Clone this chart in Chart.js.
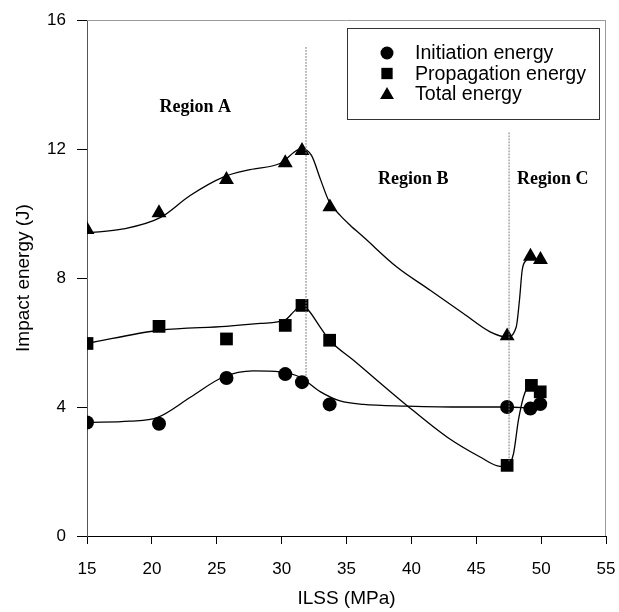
<!DOCTYPE html>
<html>
<head>
<meta charset="utf-8">
<script src="https://cdn.jsdelivr.net/npm/chart.js@4"></script>
<style>
  html, body { margin: 0; padding: 0; background: #fff; }
  #wrap { width: 619px; height: 612px; }
</style>
</head>
<body>
<div id="wrap"><canvas id="chart" width="619" height="612"></canvas></div>
<script>
// measured points (ILSS in MPa, energy in J)
const initiationX = [15, 20.55, 25.75, 30.28, 31.57, 33.7, 47.38, 49.17, 49.93];
const initiationY = [3.52, 3.48, 4.9, 5.02, 4.77, 4.08, 4.0, 3.95, 4.09];
const propagationX = [15, 20.55, 25.75, 30.28, 31.57, 33.7, 47.38, 49.25, 49.93];
const propagationY = [5.97, 6.5, 6.11, 6.53, 7.15, 6.07, 2.19, 4.67, 4.47];
const totalX = [15, 20.55, 25.75, 30.28, 31.57, 33.72, 47.38, 49.18, 49.95];
const totalY = [9.5, 10.02, 11.05, 11.57, 11.95, 10.2, 6.2, 8.67, 8.57];

// fitted curves
const initiationCurveX = [15, 18.3, 20.4, 23.0, 25.5, 27.8, 29.9, 31.4, 33.0, 34.5, 36.3, 39.65, 44.0, 47.38, 49.17];
const initiationCurveY = [3.52, 3.56, 3.67, 4.31, 4.93, 5.12, 5.09, 4.93, 4.47, 4.19, 4.08, 4.03, 4.0, 4.0, 3.97];
const propagationCurveX = [15, 20.6, 25.7, 28.35, 30.3, 30.92, 31.56, 32.07, 32.97, 33.7, 35.54, 39.65, 42.74, 45.3, 46.84, 47.38, 47.87, 48.25, 48.64, 48.9, 49.25];
const propagationCurveY = [5.97, 6.38, 6.5, 6.59, 6.71, 6.95, 7.17, 7.0, 6.48, 6.07, 5.45, 4.05, 3.07, 2.45, 2.16, 2.17, 2.55, 3.59, 4.31, 4.57, 4.67];
const totalCurveX = [15, 17.8, 20.64, 22.95, 25.5, 27.56, 29.87, 31.54, 32.3, 33.0, 33.65, 34.5, 35.3, 36.31, 38.88, 41.45, 44.01, 46.07, 47.36, 48.08, 48.33, 48.54, 48.85, 49.18];
const totalCurveY = [9.4, 9.52, 9.87, 10.56, 11.13, 11.36, 11.55, 12.01, 11.8, 11.05, 10.38, 9.95, 9.63, 9.27, 8.34, 7.62, 6.9, 6.33, 6.17, 6.48, 7.31, 8.24, 8.55, 8.67];

// region boundaries (dotted lines)
const dividerX = [31.88, 47.53];
const dividerTop = [15.15, 12.5];
const dividerBottom = [4.98, 2.3];

const regionLabels = ["Region A", "Region B", "Region C"];
const regionLabelX = [23.35, 40.15, 50.9];
const regionLabelY = [13.3, 11.05, 11.05];

const legendLabels = ["Initiation energy", "Propagation energy", "Total energy"];
const legendStyles = ["circle", "rect", "triangle"];

const xTicks = [15, 20, 25, 30, 35, 40, 45, 50, 55];
const yTicks = [0, 4, 8, 12, 16];

const zip = (xs, ys) => xs.map((x, i) => ({ x, y: ys[i] }));

const curveDataset = (xs, ys) => ({
  type: "line",
  data: zip(xs, ys),
  borderColor: "#000",
  borderWidth: 1.3,
  pointRadius: 0,
  cubicInterpolationMode: "monotone",
  fill: false,
});

const markerDataset = (xs, ys, style, radius) => ({
  type: "line",
  data: zip(xs, ys),
  showLine: false,
  pointStyle: style,
  pointRadius: radius,
  pointBackgroundColor: "#000",
  pointBorderColor: "#000",
  pointBorderWidth: 0,
});

const dividerDatasets = dividerX.map((x, i) => ({
  type: "line",
  data: [{ x, y: dividerTop[i] }, { x, y: dividerBottom[i] }],
  borderColor: "#777",
  borderWidth: 1,
  borderDash: [1, 2],
  pointRadius: 0,
}));

const sansFont = "'Liberation Sans', Arial, sans-serif";

const overlayPlugin = {
  id: "overlay",
  beforeDatasetsDraw(chart) {
    const { ctx, chartArea } = chart;
    ctx.save();
    ctx.strokeStyle = "#9a9a9a";
    ctx.lineWidth = 1;
    ctx.beginPath();
    ctx.moveTo(chartArea.left, chartArea.top + 0.5);
    ctx.lineTo(chartArea.right, chartArea.top + 0.5);
    ctx.moveTo(chartArea.right - 0.5, chartArea.top);
    ctx.lineTo(chartArea.right - 0.5, chartArea.bottom);
    ctx.stroke();
    ctx.restore();
  },
  afterDatasetsDraw(chart) {
    const { ctx, chartArea, scales } = chart;
    ctx.save();
    // region labels
    ctx.fillStyle = "#000";
    ctx.font = "bold 18px 'Liberation Serif', 'Times New Roman', serif";
    ctx.textAlign = "center";
    ctx.textBaseline = "middle";
    regionLabels.forEach((label, i) => {
      ctx.fillText(label, scales.x.getPixelForValue(regionLabelX[i]), scales.y.getPixelForValue(regionLabelY[i]));
    });

    // legend box
    const boxW = 252, boxH = 91;
    const boxX = chartArea.right - 7 - boxW;
    const boxY = chartArea.top + 8;
    ctx.fillStyle = "#fff";
    ctx.fillRect(boxX, boxY, boxW, boxH);
    ctx.strokeStyle = "#333";
    ctx.lineWidth = 1;
    ctx.strokeRect(boxX + 0.5, boxY + 0.5, boxW, boxH);
    ctx.font = "19.6px " + sansFont;
    ctx.textAlign = "left";
    ctx.textBaseline = "middle";
    const legendRadius = [6.5, 8, 8];
    legendLabels.forEach((label, i) => {
      const cy = boxY + 25 + i * 20.5;
      ctx.fillStyle = "#000";
      ctx.strokeStyle = "#000";
      Chart.helpers.drawPoint(ctx, { pointStyle: legendStyles[i], radius: legendRadius[i], borderWidth: 0 }, boxX + 40, cy + (i === 2 ? 1 : 0));
      ctx.fillText(label, boxX + 68, cy + 1);
    });
    ctx.restore();
  },
};

const ctx = document.getElementById("chart").getContext("2d");
const chart = new Chart(ctx, {
  data: {
    datasets: [
      ...dividerDatasets,
      curveDataset(initiationCurveX, initiationCurveY),
      curveDataset(propagationCurveX, propagationCurveY),
      curveDataset(totalCurveX, totalCurveY),
      markerDataset(initiationX, initiationY, "circle", 7),
      markerDataset(propagationX, propagationY, "rect", 9),
      markerDataset(totalX, totalY, "triangle", 8.6),
    ],
  },
  plugins: [overlayPlugin],
  options: {
    responsive: false,
    animation: false,
    layout: { padding: { top: 20, right: 13, left: 0, bottom: 0 } },
    plugins: { legend: { display: false }, tooltip: { enabled: false } },
    elements: { line: { borderCapStyle: "round" } },
    scales: {
      x: {
        type: "linear",
        min: 15,
        max: 55,
        afterBuildTicks: (scale) => { scale.ticks = xTicks.map((v) => ({ value: v })); },
        afterFit: (scale) => {
          scale.height = 76;
          scale.paddingLeft = 0;
          scale.paddingRight = 0;
        },
        ticks: { color: "#000", font: { family: sansFont, size: 17 }, padding: 15, maxRotation: 0 },
        grid: { drawOnChartArea: false, color: "#000", tickLength: 8 },
        border: { color: "#000", width: 1 },
        title: { display: true, text: "ILSS (MPa)", color: "#000", font: { family: sansFont, size: 19 }, padding: { top: 0, bottom: 2 } },
      },
      y: {
        type: "linear",
        min: 0,
        max: 16,
        afterBuildTicks: (scale) => { scale.ticks = yTicks.map((v) => ({ value: v })); },
        afterFit: (scale) => {
          scale.width = 87;
          scale.paddingTop = 0;
          scale.paddingBottom = 0;
        },
        ticks: { color: "#000", font: { family: sansFont, size: 17 }, padding: 11 },
        grid: { drawOnChartArea: false, color: "#000", tickLength: 10 },
        border: { color: "#555", width: 1 },
        title: { display: true, text: "Impact energy (J)", color: "#000", font: { family: sansFont, size: 19 }, padding: { top: 12, bottom: 0 } },
      },
    },
  },
});
</script>
</body>
</html>
